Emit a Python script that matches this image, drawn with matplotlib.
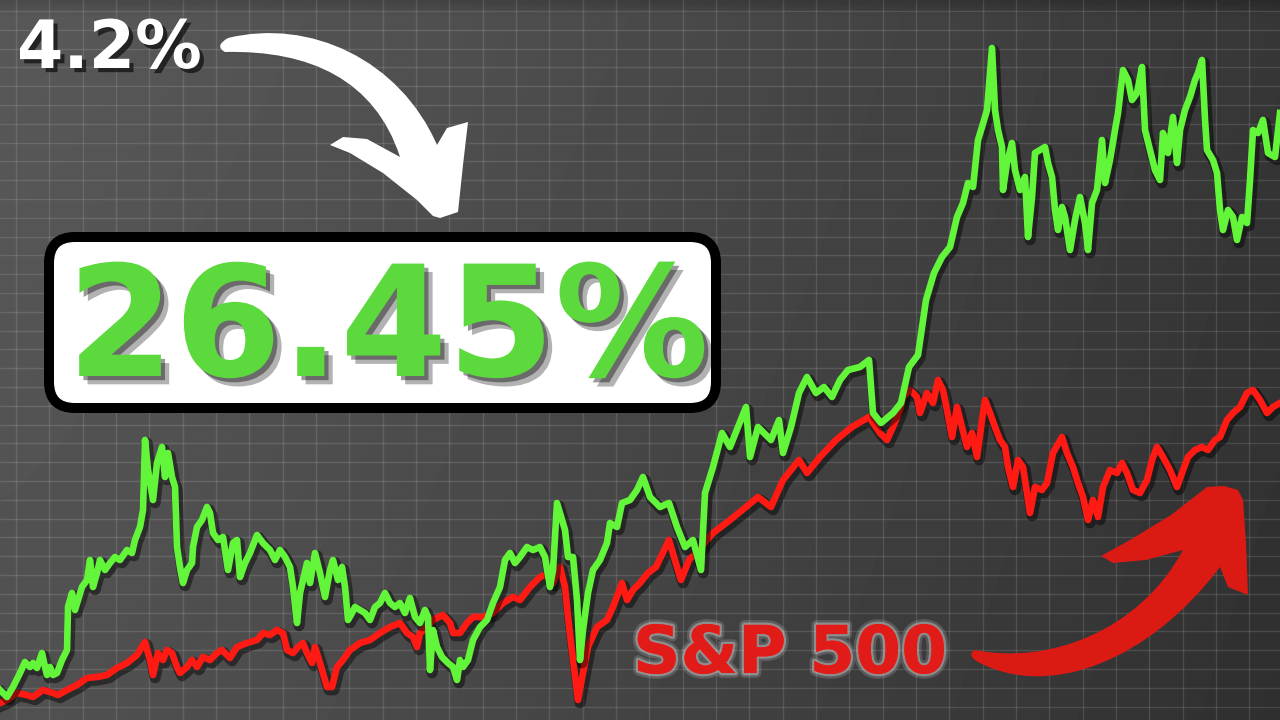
import matplotlib
matplotlib.use("Agg")
import matplotlib.pyplot as plt
import matplotlib.patheffects as pe
from matplotlib.path import Path
from matplotlib.patches import PathPatch, FancyBboxPatch
import numpy as np

# ---- data (time step, index level) ----
green_t = [0, 7, 13, 20, 25, 30, 33, 37, 42, 45,
           47, 50, 53, 57, 62, 67, 68, 72, 75, 78,
           82, 87, 90, 93, 97, 100, 105, 110, 115, 120,
           127, 132, 135, 140, 143, 145, 148, 153, 157, 162,
           165, 168, 172, 175, 177, 180, 183, 187, 192, 193,
           197, 202, 207, 210, 213, 218, 223, 228, 233, 237,
           240, 245, 250, 257, 263, 270, 275, 280, 285, 290,
           293, 297, 300, 307, 310, 315, 320, 325,
           330, 333, 338, 342, 345, 348, 352, 355, 360, 365,
           370, 375, 380, 385, 390, 395, 400, 405, 410, 415,
           420, 425, 428, 430, 433, 437, 442, 448, 453, 457,
           460, 463, 468, 473, 480, 487, 493, 500, 505, 510,
           515, 520, 527, 533, 540, 545, 550, 553, 557, 562,
           565, 568, 573, 577, 580, 583, 588, 593, 600, 607,
           610, 617, 622, 630, 637, 643, 650,
           660, 669, 677, 685, 693, 701, 705, 713, 722, 730,
           738, 746, 750, 758, 771, 779, 783, 791, 799, 807,
           816, 824, 832, 840, 848, 860, 869, 873, 881, 893,
           901, 909, 918, 926, 934, 942,
           950, 957, 963, 968, 973, 978, 982, 987, 992, 995,
           998, 1002, 1003, 1007, 1012, 1015, 1020, 1025, 1028, 1032,
           1035, 1040, 1045, 1048, 1052, 1055, 1058, 1062, 1065, 1070,
           1075, 1080, 1085, 1088, 1092, 1097, 1102, 1105, 1110, 1115,
           1118, 1123, 1128, 1132, 1137, 1142, 1145, 1150, 1155, 1160,
           1163, 1168, 1173, 1177, 1180, 1185, 1190, 1195, 1198, 1202,
           1205, 1207, 1213, 1217, 1220, 1223, 1228, 1233, 1237, 1242,
           1247, 1250, 1253, 1258, 1263, 1268, 1275, 1280]
green_v = [30, 23, 33, 47, 58, 53, 57, 52, 67, 53,
           45, 53, 45, 47, 60, 70, 113, 127, 110, 120,
           133, 140, 160, 133, 147, 160, 150, 157, 163, 160,
           170, 167, 180, 193, 210, 280, 250, 220, 257, 273,
           243, 267, 243, 233, 173, 153, 137, 150, 157, 173,
           193, 200, 213, 207, 187, 180, 183, 150, 177, 180,
           143, 157, 167, 185, 177, 170, 160, 170, 163, 153,
           133, 97, 127, 157, 137, 167, 147, 123,
           150, 160, 140, 153, 133, 100, 107, 113, 110, 107,
           100, 113, 117, 127, 117, 113, 117, 107, 122, 103,
           97, 110, 103, 50, 90, 73, 63, 57, 53, 40,
           60, 53, 60, 80, 93, 100, 117, 133, 160, 167,
           157, 163, 173, 170, 173, 163, 133, 150, 217, 200,
           190, 163, 163, 120, 60, 90, 127, 150, 160, 177,
           197, 193, 217, 220, 230, 243, 223,
           213, 217, 193, 173, 180, 150, 227, 253, 287, 273,
           293, 313, 263, 293, 280, 300, 267, 293, 327, 343,
           327, 333, 323, 340, 350, 353, 360, 307, 297, 307,
           317, 353, 365, 420, 447, 463,
           473, 503, 517, 537, 533, 580, 593, 610, 672, 610,
           590, 573, 530, 557, 577, 550, 530, 543, 483, 523,
           567, 570, 573, 557, 543, 510, 490, 513, 503, 470,
           500, 523, 497, 470, 517, 530, 580, 537, 560, 590,
           607, 650, 640, 620, 627, 653, 590, 570, 550, 540,
           587, 567, 603, 557, 590, 610, 623, 640, 647, 660,
           600, 570, 560, 547, 510, 490, 510, 503, 480, 503,
           497, 540, 590, 587, 600, 567, 563, 607]

red_t = [0, 7, 17, 27, 33, 43, 53, 58, 67, 77,
         87, 97, 107, 117, 127, 137, 145, 150, 153, 158,
         163, 167, 172, 177, 180, 187, 192, 197, 203, 210,
         217, 222, 230, 237, 247, 257, 263, 270, 277, 283,
         287, 293, 298, 303, 307, 312, 315, 320, 327,
         332, 337, 343, 350, 360, 370, 380, 390, 400, 407,
         413, 417, 420, 427, 433, 443, 450, 453, 460, 467,
         473, 483, 493, 503, 513, 520, 530, 540, 550, 553,
         560, 565, 568, 573, 578, 583, 588, 597, 607, 613,
         622, 627, 633, 640, 648,
         656, 669, 677, 681, 689, 701, 713, 730, 746, 758,
         771, 783, 799, 807, 820, 836, 852, 869,
         880, 887, 893, 900, 903, 910, 917, 920, 927, 933,
         938, 943, 947, 952, 957, 962, 967, 972, 977, 982,
         985, 990, 995, 1000, 1005, 1008, 1013, 1018, 1023, 1027,
         1030, 1035, 1042, 1047, 1053, 1062, 1067, 1073, 1078, 1083,
         1088, 1093, 1098, 1103, 1110, 1117, 1122, 1127, 1133, 1140,
         1147, 1152, 1157, 1163, 1170, 1177, 1182, 1188, 1195, 1202,
         1208, 1215, 1220, 1227, 1233, 1240, 1247, 1253, 1260, 1267,
         1273, 1280]
red_v = [17, 20, 27, 25, 23, 30, 27, 25, 30, 35,
         42, 43, 45, 52, 57, 65, 78, 60, 45, 67,
         60, 70, 67, 53, 47, 53, 60, 53, 63, 60,
         67, 70, 62, 73, 77, 80, 87, 85, 90, 87,
         70, 67, 73, 77, 67, 57, 73, 57, 33,
         33, 53, 60, 70, 77, 80, 87, 93, 97, 87,
         83, 73, 87, 93, 100, 105, 97, 87, 87, 97,
         103, 103, 107, 117, 123, 120, 133, 143, 147, 137,
         153, 133, 103, 60, 20, 47, 73, 93, 100, 113,
         137, 120, 130, 137, 147,
         153, 180, 153, 140, 160, 173, 187, 200, 213, 223,
         213, 240, 260, 247, 263, 280, 293, 303,
         287, 280, 293, 310, 323, 330, 323, 307, 327, 317,
         340, 330, 310, 283, 313, 293, 273, 287, 263, 300,
         320, 307, 293, 280, 273, 253, 233, 260, 253, 227,
         207, 233, 230, 237, 267, 283, 267, 253, 237, 223,
         200, 220, 203, 233, 250, 247, 257, 247, 230, 227,
         240, 260, 273, 263, 250, 233, 247, 263, 270, 273,
         270, 280, 283, 300, 307, 313, 327, 330, 320, 307,
         313, 317]

headline = "26.45%"
start_label = "4.2%"
bench_label = "S&P 500"

W, H = 1280, 720
fig = plt.figure(figsize=(12.8, 7.2), dpi=100)

# background + grid (pixel frame)
ax_bg = fig.add_axes([0, 0, 1, 1])
ax_bg.set_xlim(0, W)
ax_bg.set_ylim(H, 0)
ax_bg.axis("off")
xx, yy = np.meshgrid(np.linspace(0, 1, 256), np.linspace(0, 1, 144))
shade = 0.345 - 0.13 * xx ** 1.3 - 0.03 * yy
shade -= 0.05 * np.clip(1 - yy * H / 14, 0, 1)
ax_bg.imshow(shade, cmap="gray", vmin=0, vmax=1, extent=[0, W, H, 0],
             aspect="auto", interpolation="bilinear")
ax_bg.vlines(np.arange(16, W, 33.33), 0, H, color="white", alpha=0.12, lw=1.0)
ax_bg.hlines(np.arange(11, H, 18.8), 0, W, color="white", alpha=0.12, lw=1.0)

# the two series
ax = fig.add_axes([0, 0, 1, 1], facecolor="none")
ax.set_xlim(0, 1280)
ax.set_ylim(0, 720)
ax.axis("off")
line_fx = [pe.SimpleLineShadow(offset=(1.5, -2), shadow_color="black", alpha=0.45, linewidth=8),
           pe.Normal()]
ax.plot(red_t, red_v, color="#ff1a14", lw=4.8, solid_joinstyle="round", path_effects=line_fx)
ax.plot(green_t, green_v, color="#62f53a", lw=4.8, solid_joinstyle="round", path_effects=line_fx)

# overlay: labels, box, arrows (pixel frame)
ov = fig.add_axes([0, 0, 1, 1], facecolor="none")
ov.set_xlim(0, W)
ov.set_ylim(H, 0)
ov.axis("off")

font = dict(family="DejaVu Sans", weight="bold")

ov.text(17, 68, start_label, color="white", fontsize=48, ha="left", va="baseline",
        path_effects=[pe.SimplePatchShadow(offset=(3, -3), shadow_rgbFace="black", alpha=0.6), pe.Normal()],
        **font)

box = FancyBboxPatch((49, 237), 667, 171, boxstyle="round,pad=0,rounding_size=26",
                     fc="white", ec="black", lw=7.2, mutation_aspect=1)
ov.add_patch(box)
ov.text(67, 376, headline, color="#5cd93c", fontsize=111, ha="left", va="baseline",
        path_effects=[pe.SimplePatchShadow(offset=(6, -6), shadow_rgbFace="black", alpha=0.3),
                      pe.SimplePatchShadow(offset=(3, -3), shadow_rgbFace="black", alpha=0.4),
                      pe.Normal()],
        **font)

ov.text(633, 673, bench_label, color="#e11b17", fontsize=47.5, ha="left", va="baseline",
        path_effects=[pe.withStroke(linewidth=7, foreground=(1, 1, 1, 0.15)),
                      pe.withStroke(linewidth=3.5, foreground=(1, 1, 1, 0.3)),
                      pe.Normal()],
        **font)

M, L, C3, C4, CL = Path.MOVETO, Path.LINETO, Path.CURVE3, Path.CURVE4, Path.CLOSEPOLY

w_verts = [(228, 38), (310, 18), (400, 60), (437, 145),
           (447, 128), (468, 122), (463, 165), (458, 212), (440, 218), (433, 216),
           (417, 200), (383, 173), (350, 153), (330, 145),
           (343, 137), (367, 139), (400, 157),
           (375, 80), (310, 50), (225, 52),
           (214, 46), (228, 38), (0, 0)]
w_codes = [M, C4, C4, C4] + [L] * 13 + [C4, C4, C4, C3, C3, CL]
ov.add_patch(PathPatch(Path(w_verts, w_codes), fc="white", ec="none",
                       path_effects=[pe.SimplePatchShadow(offset=(2, -2), alpha=0.35), pe.Normal()]))

r_verts = [(978, 662), (1050, 700), (1150, 660), (1220, 567),
           (1228, 587), (1248, 595), (1246, 543), (1243, 500), (1238, 490), (1224, 486),
           (1207, 487), (1171, 515), (1130, 540), (1101, 556), (1113, 563), (1146, 560),
           (1183, 550),
           (1140, 630), (1050, 665), (975, 650),
           (966, 655), (978, 662), (0, 0)]
r_codes = [M, C4, C4, C4] + [L] * 13 + [C4, C4, C4, C3, C3, CL]
ov.add_patch(PathPatch(Path(r_verts, r_codes), fc="#dc1a14", ec="none"))

fig.savefig("out.png", dpi=100)
plt.close(fig)
